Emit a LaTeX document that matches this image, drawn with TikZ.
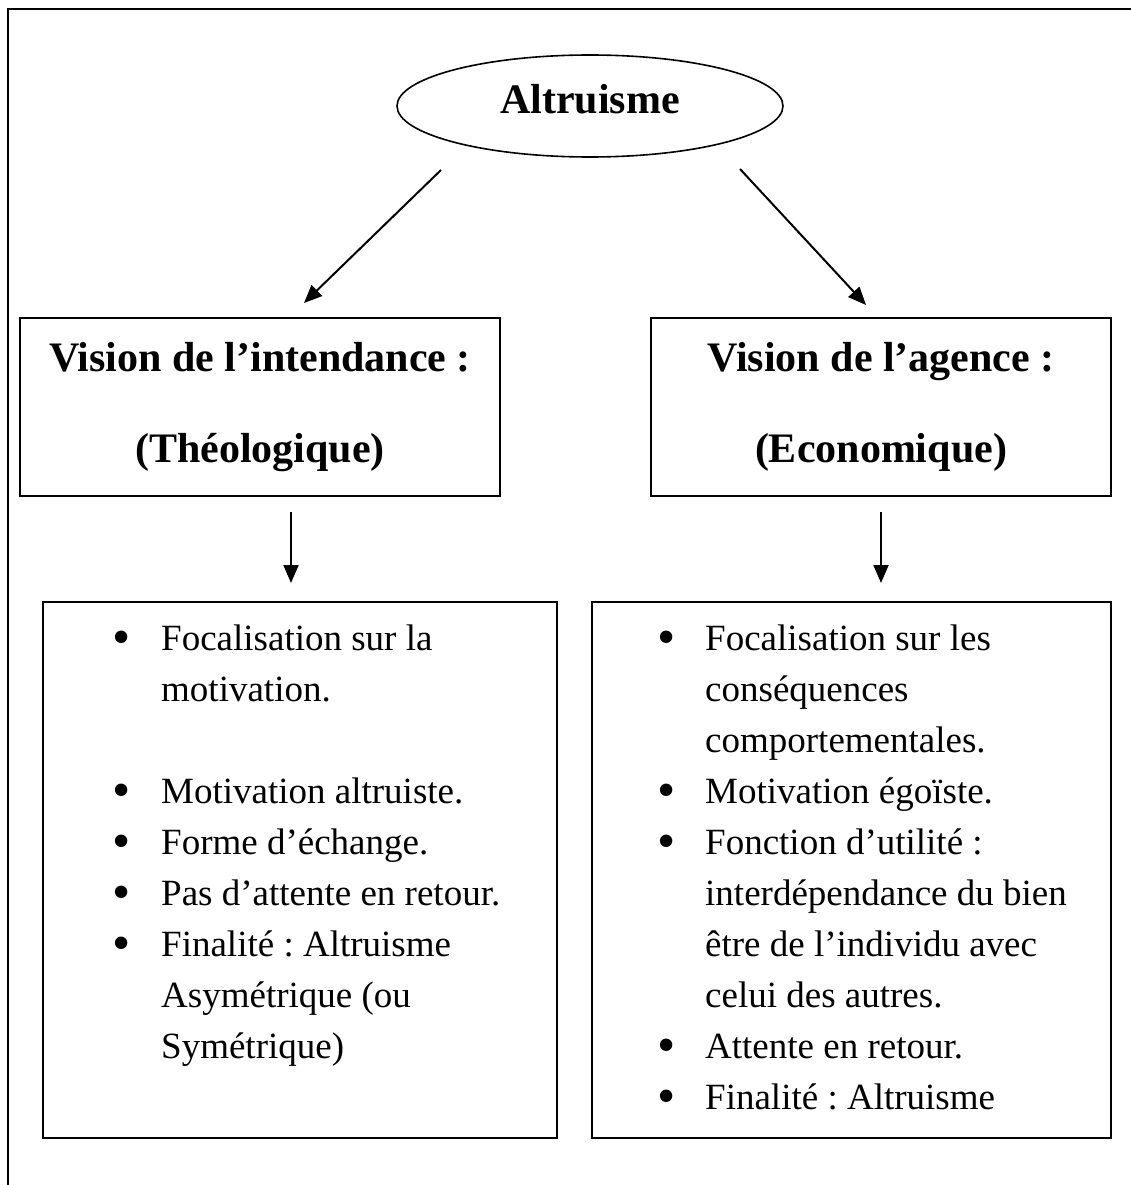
\documentclass[tikz,border=0pt]{standalone}
\usepackage{fontspec}
\setmainfont{Liberation Serif}
\usetikzlibrary{shapes.geometric, arrows.meta}

\frenchspacing
\newcommand{\blt}{\llap{\raisebox{-4pt}{\fontsize{52}{51}\selectfont\textbullet}\hspace{30pt}}}

\begin{document}
\begin{tikzpicture}[x=1pt, y=-1pt,
  box/.style={draw, line width=2pt, inner sep=0pt},
  headbox/.style={box, minimum width=480pt, minimum height=178pt, align=center, font=\fontsize{42}{91}\selectfont\bfseries},
  listbox/.style={box, minimum width=514pt, minimum height=536pt},
  listtext/.style={anchor=north west, inner sep=0pt, align=left, font=\fontsize{37}{51}\selectfont},
  arr/.style={-{Triangle[length=18pt, width=15pt]}, line width=2pt}]

  \useasboundingbox (0,0) rectangle (1131,1185);

  % frame of the figure, only top and left edges are visible
  \draw[line width=2pt] (1131,9) -- (8,9) -- (8,1185);

  \node (alt) at (590,106) [ellipse, draw, line width=1.6pt, minimum width=386pt, minimum height=102pt, inner sep=0pt, text depth=15pt, font=\fontsize{42}{50}\selectfont\bfseries] {Altruisme};

  \node (intend) at (260,407) [headbox] {Vision de l’intendance :\\(Théologique)};

  \node (agence) at (881,407) [headbox, minimum width=460pt] {Vision de l’agence :\\(Economique)};

  \node (lst-intend) at (300,870) [listbox] {};

  \node (lst-agence) at (851.5,870) [listbox, minimum width=519pt] {};

  \node (txt-intend) at (161,625) [listtext] {\blt Focalisation sur la\\motivation.\\[51pt]\blt Motivation altruiste.\\\blt Forme d’échange.\\\blt Pas d’attente en retour.\\\blt Finalité : Altruisme\\Asymétrique (ou\\Symétrique)};

  \node (txt-agence) at (705,625) [listtext] {\blt Focalisation sur les\\conséquences\\comportementales.\\\blt Motivation égoïste.\\\blt Fonction d’utilité :\\interdépendance du bien\\être de l’individu avec\\celui des autres.\\\blt Attente en retour.\\\blt Finalité : Altruisme};

  % arrow ends
  \coordinate (alt-l) at (441,170);
  \coordinate (intend-in) at (304,303);
  \coordinate (alt-r) at (740,169);
  \coordinate (agence-in) at (866,305);
  \coordinate (intend-out) at (291,512);
  \coordinate (lst-intend-in) at (291,583);
  \coordinate (agence-out) at (881,512);
  \coordinate (lst-agence-in) at (881,583);

  \draw[arr] (alt-l) -- (intend-in);
  \draw[arr] (alt-r) -- (agence-in);
  \draw[arr] (intend-out) -- (lst-intend-in);
  \draw[arr] (agence-out) -- (lst-agence-in);

\end{tikzpicture}
\end{document}
